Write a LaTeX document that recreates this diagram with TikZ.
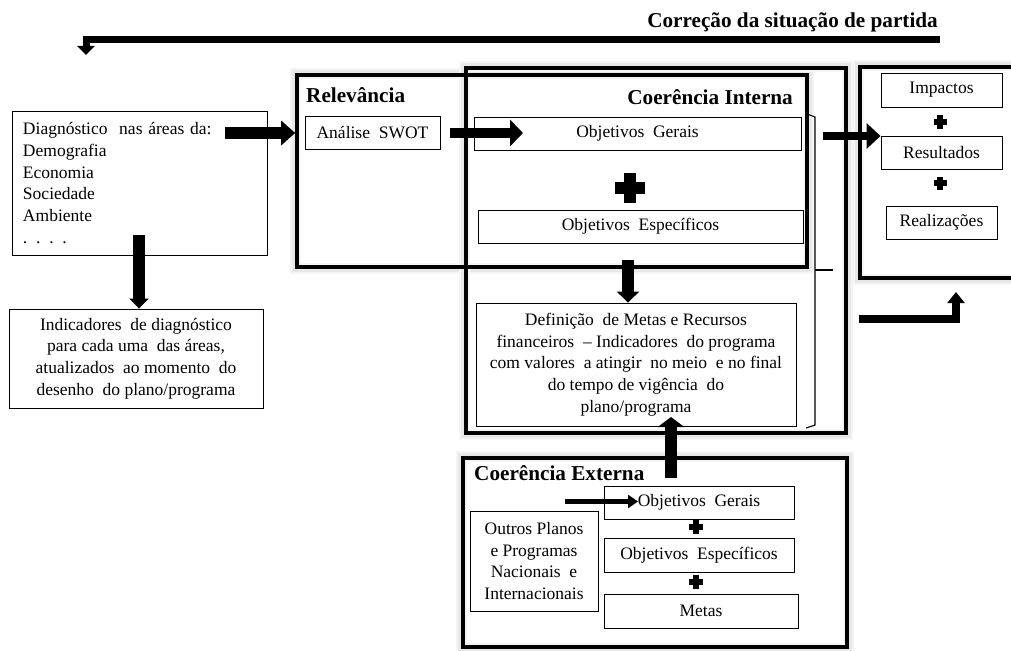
\documentclass[tikz,border=0pt]{standalone}
\usepackage{fontspec}
\setmainfont{Liberation Serif}
\usetikzlibrary{arrows.meta}
\pgfdeclarelayer{bg}
\pgfsetlayers{bg,main}
\newcommand\plusat[4]{% x, y, half size, half arm
  \fill (#1-#3,#2-#4) rectangle (#1+#3,#2+#4);
  \fill (#1-#4,#2-#3) rectangle (#1+#4,#2+#3);}
\begin{document}
\begin{tikzpicture}[x=1pt,y=-1pt,
  txt/.style={font=\fontsize{17.5}{21.7}\selectfont},
  tbox/.style={draw, line width=0.9pt, fill=white, inner sep=0pt, align=center, txt},
  frame/.style={draw=black, line width=3.6pt, inner sep=0pt},
  glowa/.style={draw=black!4, line width=11pt},
  glowb/.style={draw=black!9, line width=7pt},
  head/.style={font=\bfseries\fontsize{21.2}{25}\selectfont, inner sep=0pt},
  brace/.style={draw, line width=1.1pt},
]
\useasboundingbox (0,0) rectangle (1011,650);

% frames
\node[frame, minimum width=510, minimum height=192] (relev) at (552,171) {};
\node[frame, minimum width=380, minimum height=365] (cohi) at (656,250.5) {};
\node[frame, minimum width=384, minimum height=189] (cohe) at (655,552.5) {};
\node[frame, minimum width=156, minimum height=211] (resbox) at (938,172.5) {};
\begin{pgfonlayer}{bg}
  \foreach \n in {relev,cohi,cohe,resbox} {
    \draw[glowa] (\n.north west) rectangle (\n.south east);
    \draw[glowb] (\n.north west) rectangle (\n.south east);
  }
\end{pgfonlayer}

% headings
\node[head, anchor=east] (title) at (938,22) {Correção da situação de partida};
\node[head, anchor=west] (rlabel) at (306,95) {Relevância};
\node[head, anchor=east] (cilabel) at (793,97) {Coerência Interna};
\node[head, anchor=west] (celabel) at (474,473) {Coerência Externa};

% left boxes
\node[tbox, minimum width=255, minimum height=144, text width=233, align=left] (diag) at (139.5,183)
  {Diagnóstico~ nas áreas da:\\Demografia\\Economia\\Sociedade\\Ambiente\\ . . . .};
\node[tbox, minimum width=254, minimum height=99] (ind) at (136,358.5)
  {Indicadores~ de diagnóstico\\para cada uma~ das áreas,\\atualizados~ ao momento~ do\\desenho~ do plano/programa};

% relevance / internal coherence
\node[tbox, minimum width=135, minimum height=33] (swot) at (372.5,132.5) {Análise~ SWOT};
\node[tbox, minimum width=327, minimum height=33] (og1) at (637.5,133.5) {Objetivos~ Gerais};
\node[tbox, minimum width=325, minimum height=33] (oe1) at (640.5,226.5) {Objetivos~ Específicos};
\node[tbox, minimum width=320, minimum height=123] (def) at (636,364.5)
  {Definição~ de Metas e Recursos\\financeiros~ -- Indicadores~ do programa\\com valores~ a atingir~ no meio~ e no final\\do tempo de vigência~ do\\plano/programa};

% external coherence
\node[tbox, minimum width=190, minimum height=33] (og2) at (699,502.5) {Objetivos~ Gerais};
\node[tbox, minimum width=190, minimum height=34] (oe2) at (699,555) {Objetivos~ Específicos};
\node[tbox, minimum width=194, minimum height=34] (metas) at (701,611) {Metas};
\node[tbox, minimum width=128, minimum height=100] (outros) at (534,561)
  {Outros Planos\\e Programas\\Nacionais~ e\\Internacionais};

% results
\node[tbox, minimum width=121, minimum height=34] (imp) at (941.5,90) {Impactos};
\node[tbox, minimum width=121, minimum height=33] (res) at (941.5,152.5) {Resultados};
\node[tbox, minimum width=111, minimum height=33] (real) at (941.5,222.5) {Realizações};

% plus signs
\plusat{630}{188}{15}{6}
\plusat{696}{527}{7}{2.8}
\plusat{696}{582}{7}{2.8}
\plusat{940}{122}{6.5}{2.6}
\plusat{940}{183}{6.5}{2.6}

% bracket
\coordinate (bt) at (807,114);
\coordinate (bb) at (806,428);
\coordinate (bm) at (833,270);
\draw[brace] (bt) -- (815,117) -- (815,425) -- (bb);
\draw[brace] (815,270) -- (bm);

% free ends of connectors
\coordinate (fbstart) at (940,39.5);
\coordinate (fbcorner) at (86,39.5);
\coordinate (fbend) at (86,55);
\coordinate (a1s) at (225,133);
\coordinate (a2s) at (450,133);
\coordinate (a3s) at (823,136);
\coordinate (a4s) at (628,260);
\coordinate (a5s) at (671,478);
\coordinate (a6s) at (139,235);
\coordinate (a7s) at (565,501.5);
\coordinate (a7e) at (638,501.5);
\coordinate (elbs) at (859,319);

% connectors
\draw[line width=7pt, -{Triangle[width=17pt,length=9pt]}] (fbstart) -- (fbcorner.east) -- (fbend);
\draw[line width=12pt, -{Triangle[width=24pt,length=14pt]}] (a1s) -- (relev.west |- a1s);
\draw[line width=10pt, -{Triangle[width=26pt,length=13pt]}] (a2s) -- (a2s -| 523,0);
\draw[line width=8pt, -{Triangle[width=25pt,length=14pt]}] (a3s) -- (res.west |- a3s);
\draw[line width=12pt, -{Triangle[width=22pt,length=11pt]}] (a4s) -- (def.north -| a4s);
\draw[line width=12pt, -{Triangle[width=26pt,length=10pt]}] (a5s) -- (a5s |- 0,417);
\draw[line width=12pt, -{Triangle[width=19pt,length=10pt]}] (a6s) -- (ind.north -| a6s);
\draw[line width=5pt, -{Triangle[width=13pt,length=10pt]}] (a7s) -- (a7e);
\draw[line width=8pt, -{Triangle[width=17pt,length=11pt]}] (elbs) -- (956,319) -- (956,292);
\end{tikzpicture}
\end{document}
